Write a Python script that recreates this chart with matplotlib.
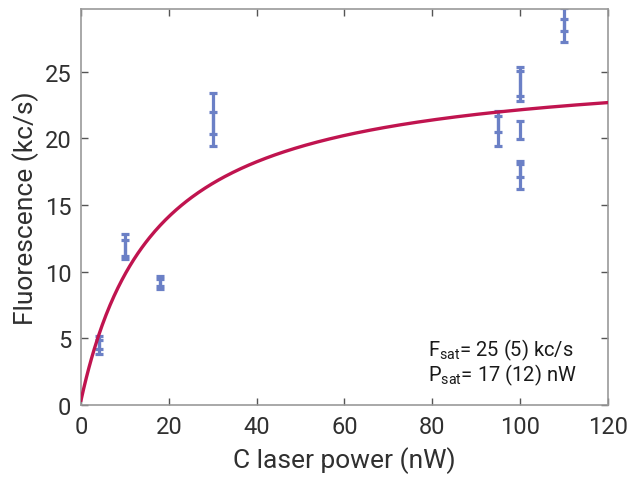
import numpy as np
import matplotlib
matplotlib.use('Agg')
import matplotlib.pyplot as plt

plt.rcParams['font.family'] = ['Roboto', 'DejaVu Sans']
plt.rcParams['mathtext.fontset'] = 'custom'
plt.rcParams['mathtext.rm'] = 'Roboto'
plt.rcParams['mathtext.it'] = 'Roboto'

# measured points (power nW, fluorescence kc/s, error)
power = [4, 4, 10, 10, 18, 18, 30, 30, 95, 95, 100, 100, 100, 100, 100, 110, 110]
fluo = [4.7, 4.35, 11.99, 11.68, 9.33, 9.08, 21.85, 20.7, 21.27, 20.58,
        24.27, 23.95, 20.64, 17.7, 17.15, 28.9, 28.08]
err = [0.5, 0.5, 0.84, 0.73, 0.38, 0.37, 1.55, 1.3, 0.82, 1.13,
       1.07, 1.12, 0.69, 0.62, 0.95, 0.85, 0.88]

# saturation fit
F_sat = 25.5
P_sat = 17
offset = 0.35

fig = plt.figure(figsize=(6.3, 4.81), dpi=100)
ax = fig.add_axes([0.1286, 0.156, 0.8364, 0.823])

ax.errorbar(power, fluo, yerr=err, fmt='none', ecolor='#6b80c6',
            elinewidth=2.3, capsize=3, capthick=2.3, zorder=2)

p = np.linspace(0, 120, 400)
ax.plot(p, F_sat * p / (p + P_sat) + offset, color='#c0144f', lw=2.4, zorder=3)

ax.set_xlim(0, 120)
ax.set_ylim(0, 29.7)
ax.set_xticks(range(0, 121, 20))
ax.set_yticks(range(0, 26, 5))
ax.tick_params(direction='in', top=True, right=True, length=5, width=1,
               color='#555555', labelsize=17, labelcolor='#303030', pad=7)
for s in ax.spines.values():
    s.set_color('#999999')
    s.set_linewidth(1.2)

ax.set_xlabel('C laser power (nW)', fontsize=19, color='#303030', labelpad=6)
ax.set_ylabel('Fluorescence (kc/s)', fontsize=19, color='#303030', labelpad=4)

ax.text(79, 3.7, r'F$_\mathrm{sat}$= 25 (5) kc/s', fontsize=14.5, color='#1a1a1a')
ax.text(79, 1.85, r'P$_\mathrm{sat}$= 17 (12) nW', fontsize=14.5, color='#1a1a1a')

fig.savefig('out.png', dpi=100)
